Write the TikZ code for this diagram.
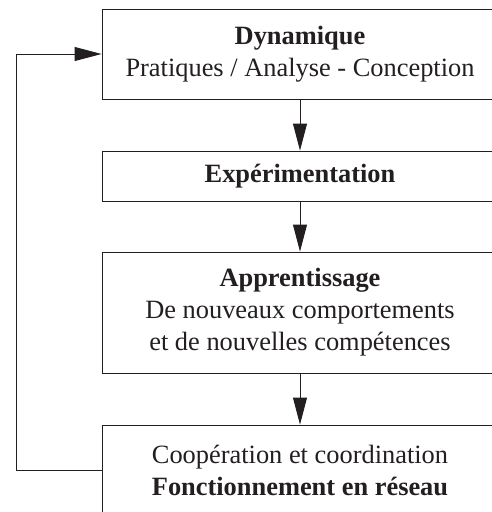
\documentclass[tikz,border=0pt]{standalone}
\usepackage{fontspec}
\setmainfont{Liberation Serif}
\usepackage{tikz}
\usetikzlibrary{arrows.meta,positioning}
\definecolor{Ink}{HTML}{231F20}
\tikzset{
  stage/.style={draw=Ink,line width=0.9pt,fill=white,text=Ink,align=center,minimum width=396pt,inner sep=0pt,font=\fontsize{26.4}{32}\selectfont},
  arrow/.style={-{Triangle[length=27pt,width=14pt]},line width=0.9pt,draw=Ink}
}

\begin{document}
\begin{tikzpicture}[x=1pt,y=-1pt]
  \useasboundingbox (0,0) rectangle (491,512);
  \node[stage,minimum height=90pt] (dyn) at (300,54) {\textbf{Dynamique}\\Pratiques / Analyse - Conception};
  \node[stage,minimum height=50pt] (exp) at (300,176) {\textbf{Expérimentation}};
  \node[stage,minimum height=121pt] (app) at (300,312.5) {\textbf{Apprentissage}\\De nouveaux comportements\\et de nouvelles compétences};
  \node[stage,minimum height=90pt] (coop) at (300,470) {Coopération et coordination\\\textbf{Fonctionnement en réseau}};
  \draw[arrow] (dyn)--(exp); \draw[arrow] (exp)--(app); \draw[arrow] (app)--(coop);
  \draw[arrow] (coop.west)--++(-85,0)|-(dyn.west);
\end{tikzpicture}
\end{document}
